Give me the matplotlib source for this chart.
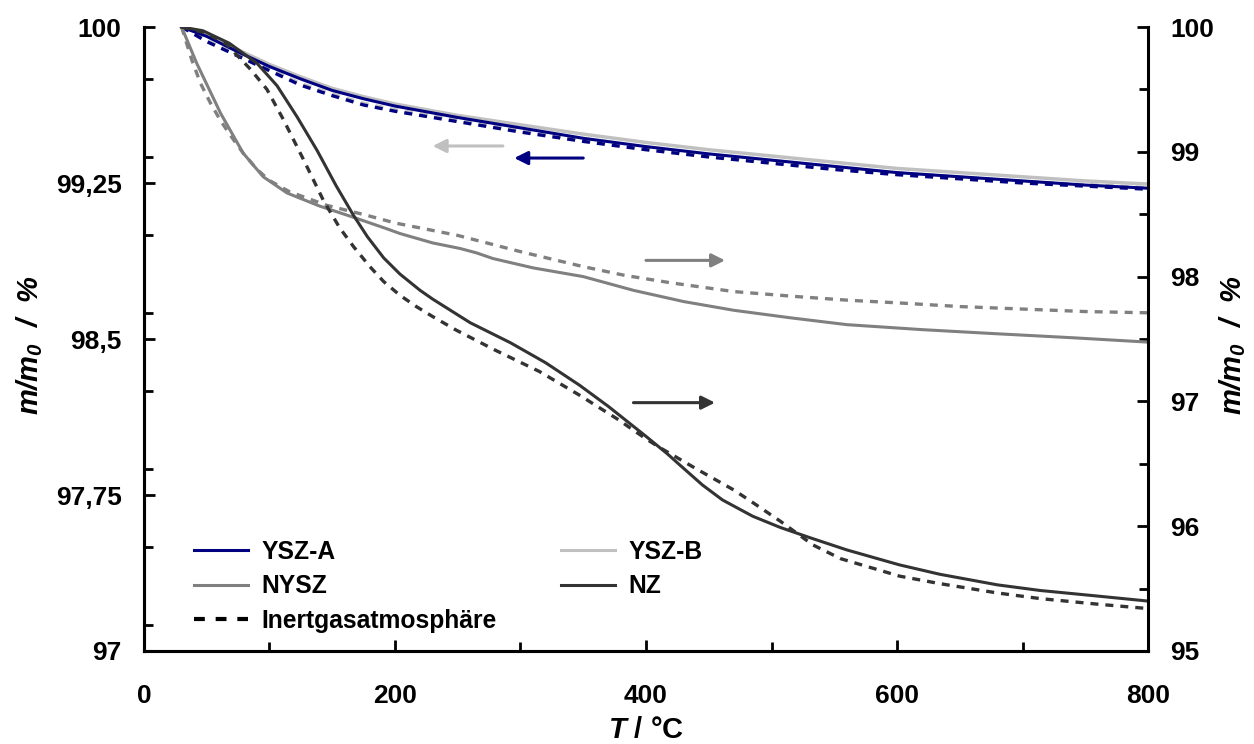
import matplotlib
matplotlib.use("Agg")
import matplotlib.pyplot as plt
from matplotlib.lines import Line2D
from matplotlib.ticker import MultipleLocator, FuncFormatter

plt.rcParams['font.family'] = ['Liberation Sans', 'DejaVu Sans']
plt.rcParams['font.weight'] = 'bold'
plt.rcParams['mathtext.fontset'] = 'custom'
plt.rcParams['mathtext.it'] = 'Liberation Sans:italic:bold'
plt.rcParams['mathtext.rm'] = 'Liberation Sans:italic:bold'
plt.rcParams['mathtext.bf'] = 'Liberation Sans:bold'

# ---------------- data ----------------
# left axis (YSZ samples)
ysz_T = [30, 50, 75, 100, 125, 150, 175, 200, 250, 300, 350, 400, 450, 500, 550, 600, 650, 700, 750, 800]
ysz_a = [100, 99.955, 99.88, 99.81, 99.75, 99.695, 99.655, 99.62, 99.565, 99.515, 99.465, 99.425,
         99.39, 99.36, 99.33, 99.30, 99.28, 99.26, 99.24, 99.225]
ysz_b = [100, 99.96, 99.89, 99.82, 99.76, 99.705, 99.665, 99.63, 99.575, 99.53, 99.485, 99.445,
         99.41, 99.38, 99.35, 99.32, 99.30, 99.28, 99.26, 99.245]
ysz_a_inert = [100, 99.93, 99.86, 99.79, 99.72, 99.67, 99.625, 99.595, 99.545, 99.495, 99.45, 99.41,
               99.375, 99.345, 99.315, 99.29, 99.27, 99.25, 99.235, 99.22]
ysz_b_inert = [100, 99.935, 99.866, 99.797, 99.728, 99.678, 99.633, 99.603, 99.553, 99.503, 99.458, 99.418,
               99.383, 99.353, 99.323, 99.298, 99.278, 99.258, 99.243, 99.228]

# right axis (NYSZ, NZ)
nysz_T = [30, 42, 61, 79, 95, 114, 140, 167, 193, 204, 230, 252, 265, 278, 310, 350, 390,
          430, 470, 515, 560, 620, 674, 740, 800]
nysz = [100, 99.71, 99.31, 98.99, 98.80, 98.67, 98.565, 98.475, 98.385, 98.345, 98.27, 98.225,
        98.19, 98.145, 98.07, 98.0, 97.89, 97.80, 97.73, 97.67, 97.615, 97.575, 97.545, 97.51, 97.475]
nysz_inert_T = [30, 38, 45, 53, 61, 69, 79, 90, 100, 116, 146, 178, 200, 250, 300, 350, 383, 420,
                470, 520, 562, 600, 650, 700, 750, 800]
nysz_inert = [100, 99.74, 99.55, 99.39, 99.25, 99.13, 98.99, 98.86, 98.77, 98.68, 98.57, 98.49, 98.43,
              98.33, 98.20, 98.08, 98.01, 97.95, 97.88, 97.84, 97.81, 97.79, 97.76, 97.74, 97.72, 97.71]

nz_T = [30, 47, 68, 90, 106, 122, 138, 153, 167, 178, 191, 204, 220, 230, 260, 292, 320, 347, 370,
        390, 400, 417, 427, 445, 461, 485, 507, 530, 560, 602, 634, 680, 714, 760, 800]
nz = [100, 99.97, 99.87, 99.71, 99.53, 99.28, 99.01, 98.73, 98.49, 98.32, 98.15, 98.02, 97.89, 97.82,
      97.63, 97.47, 97.31, 97.13, 96.96, 96.80, 96.72, 96.58, 96.49, 96.33, 96.21, 96.08, 95.99, 95.91,
      95.81, 95.69, 95.615, 95.53, 95.485, 95.44, 95.40]
nz_inert_T = [30, 50, 66, 85, 98, 111, 127, 143, 156, 167, 180, 191, 204, 217, 230, 249, 280, 315,
              347, 377, 400, 411, 440, 470, 485, 507, 533, 555, 602, 634, 680, 714, 760, 800]
nz_inert = [100, 99.95, 99.86, 99.66, 99.50, 99.26, 98.94, 98.61, 98.39, 98.24, 98.08, 97.96, 97.85,
            97.76, 97.68, 97.57, 97.41, 97.24, 97.05, 96.86, 96.70, 96.63, 96.46, 96.29, 96.19, 96.04,
            95.85, 95.74, 95.60, 95.54, 95.465, 95.42, 95.375, 95.34]

# arrows: (tail T, head T, value)
arrow_ysz_b = (286, 230, 99.428)
arrow_ysz_a = (350, 295, 99.37)
arrow_nysz = (400, 463, 98.13)
arrow_nz = (390, 455, 96.99)

left_ticks = [97, 97.75, 98.5, 99.25, 100]
right_ticks = [95, 96, 97, 98, 99, 100]
x_ticks = [0, 200, 400, 600, 800]

legend_labels = ['YSZ-A', 'NYSZ', 'Inertgasatmosphäre', 'YSZ-B', 'NZ']

# ---------------- colours / styles ----------------
c_a = '#000080'
c_b = '#c0c0c0'
c_nysz = '#808080'
c_nz = '#333333'
lw = 2.2
dlw = 2.4
dash = (0, (2.4, 2.1))
leg_dash = (0, (2.6, 2.6))

fig = plt.figure(figsize=(12.54, 7.44), dpi=100)
ax = fig.add_axes([0.1148, 0.125, 0.8007, 0.8387])
ax2 = ax.twinx()

ax.plot(ysz_T, ysz_b, color=c_b, lw=lw + 0.3)
ax.plot(ysz_T, ysz_b_inert, color=c_b, lw=dlw, ls=dash)
ax.plot(ysz_T, ysz_a_inert, color=c_a, lw=dlw, ls=dash)
ax.plot(ysz_T, ysz_a, color=c_a, lw=lw)

ax2.plot(nysz_inert_T, nysz_inert, color=c_nysz, lw=dlw, ls=dash)
ax2.plot(nysz_T, nysz, color=c_nysz, lw=lw)
ax2.plot(nz_inert_T, nz_inert, color=c_nz, lw=dlw, ls=dash)
ax2.plot(nz_T, nz, color=c_nz, lw=lw)

ax.set_xlim(0, 800)
ax.set_ylim(97, 100)
ax2.set_ylim(95, 100)

ax.set_xticks(x_ticks)
ax.xaxis.set_minor_locator(MultipleLocator(100))
ax.set_yticks(left_ticks)
ax.yaxis.set_minor_locator(MultipleLocator(0.375))
ax.yaxis.set_major_formatter(FuncFormatter(lambda v, p: ('%g' % v).replace('.', ',')))
ax2.set_yticks(right_ticks)
ax2.yaxis.set_minor_locator(MultipleLocator(0.5))

for a in (ax, ax2):
    a.spines['top'].set_visible(False)
    for s in a.spines.values():
        s.set_linewidth(2.2)
ax.spines['right'].set_visible(False)

ax.tick_params(axis='both', which='major', direction='in', length=8, width=2, labelsize=19)
ax.tick_params(axis='both', which='minor', direction='in', length=6.5, width=2)
ax.tick_params(axis='x', which='major', pad=24)
ax.tick_params(axis='y', which='major', pad=16)
ax2.tick_params(axis='y', which='major', direction='in', length=8, width=2, labelsize=19, pad=16)
ax2.tick_params(axis='y', which='minor', direction='in', length=6.5, width=2)
for lab in ax.get_xticklabels() + ax.get_yticklabels() + ax2.get_yticklabels():
    lab.set_fontweight('bold')

ax.set_xlabel(r'$T$ / °C', fontsize=21, fontweight='bold', va='center')
ax.xaxis.set_label_coords(0.5, -0.126)
ylab = r'$m/m_0$  /  %'
ax.set_ylabel(ylab, fontsize=21, fontweight='bold', fontstyle='italic', va='center')
ax.yaxis.set_label_coords(-0.1135, 0.49)
ax2.set_ylabel(ylab, fontsize=21, fontweight='bold', fontstyle='italic', va='center', rotation=90)
ax2.yaxis.set_label_coords(1.0847, 0.49)

def arr(a, spec, color):
    t0, t1, v = spec
    a.annotate('', xy=(t1, v), xytext=(t0, v),
               arrowprops=dict(arrowstyle='-|>', color=color, lw=2.2, mutation_scale=20,
                               shrinkA=0, shrinkB=0))

arr(ax, arrow_ysz_b, c_b)
arr(ax, arrow_ysz_a, c_a)
arr(ax2, arrow_nysz, c_nysz)
arr(ax2, arrow_nz, c_nz)

handles = [Line2D([], [], color=c_a, lw=lw),
           Line2D([], [], color=c_nysz, lw=lw),
           Line2D([], [], color='black', lw=3.0, ls=leg_dash),
           Line2D([], [], color=c_b, lw=lw),
           Line2D([], [], color=c_nz, lw=lw)]
ax2.legend(handles, legend_labels, ncol=2, loc='upper left', bbox_to_anchor=(0.05, 0.178),
           frameon=False, borderpad=0, borderaxespad=0, handlelength=2.2, handletextpad=0.55,
           labelspacing=0.42, columnspacing=2.6, prop={'size': 17.7, 'weight': 'bold'})

fig.savefig('out.png', dpi=100)
